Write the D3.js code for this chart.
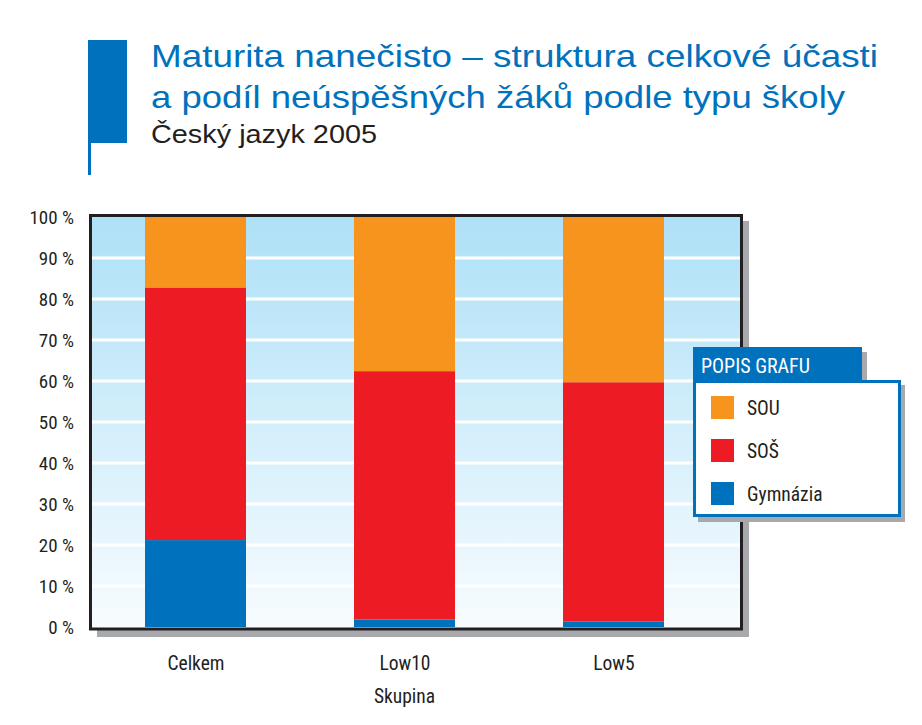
<!DOCTYPE html>
<html>
<head>
<meta charset="utf-8">
<script src="https://cdn.jsdelivr.net/npm/d3@7"></script>
<style>
  body { margin: 0; background: #fff; }
  svg { display: block; }
  .narrow { font-family: "Liberation Sans Narrow", "Arial Narrow", "Roboto Condensed", "Liberation Sans", sans-serif; font-weight: normal; }
</style>
</head>
<body>
<svg id="chart" width="922" height="725"></svg>
<script>
// ---- data ----
const categories = ["Celkem", "Low10", "Low5"];
const seriesNames = ["Gymnázia", "SOŠ", "SOU"];
const gymnazia = [21.2, 1.8, 1.3];
const sos = [61.6, 60.6, 58.4];
const sou = [17.2, 37.6, 40.3];
const yTicks = [0, 10, 20, 30, 40, 50, 60, 70, 80, 90, 100];
const titleLines = ["Maturita nanečisto – struktura celkové účasti", "a podíl neúspěšných žáků podle typu školy"];
const subtitle = "Český jazyk 2005";
const xAxisTitle = "Skupina";
const legendTitle = "POPIS GRAFU";
const legendOrder = ["SOU", "SOŠ", "Gymnázia"];
const colors = { "Gymnázia": "#0071bc", "SOŠ": "#ed1c24", "SOU": "#f7941d" };

const rows = categories.map((c, i) => ({ cat: c, "Gymnázia": gymnazia[i], "SOŠ": sos[i], "SOU": sou[i] }));

const svg = d3.select("#chart");

// ---- title block ----
svg.append("rect").attr("x", 88).attr("y", 40).attr("width", 39).attr("height", 103).attr("fill", "#0071bc");
svg.append("rect").attr("x", 88).attr("y", 140).attr("width", 3).attr("height", 35).attr("fill", "#0071bc");
const titleFont = "'Liberation Sans', Arial, sans-serif";
svg.append("text").attr("x", 151).attr("y", 67).attr("fill", "#0071bc")
  .attr("font-family", titleFont).attr("font-size", 32)
  .attr("textLength", 727).attr("lengthAdjust", "spacingAndGlyphs").text(titleLines[0]);
svg.append("text").attr("x", 151).attr("y", 108).attr("fill", "#0071bc")
  .attr("font-family", titleFont).attr("font-size", 32)
  .attr("textLength", 694).attr("lengthAdjust", "spacingAndGlyphs").text(titleLines[1]);
svg.append("text").attr("x", 151).attr("y", 143).attr("fill", "#231f20")
  .attr("font-family", titleFont).attr("font-size", 26)
  .attr("textLength", 226).attr("lengthAdjust", "spacingAndGlyphs").text(subtitle);

// ---- scales ----
const plot = { left: 92, right: 740, top: 217, bottom: 627 };
const y = d3.scaleLinear().domain([0, 100]).range([plot.bottom, plot.top]);
const x = d3.scalePoint().domain(categories).range([195.5, 613.5]);
const barW = 101;

// ---- frame shadow ----
svg.append("rect").attr("x", 97).attr("y", 221).attr("width", 652).attr("height", 416).attr("fill", "#a7a9ac");

// background gradient
const defs = svg.append("defs");
const grad = defs.append("linearGradient").attr("id", "bg").attr("x1", 0).attr("y1", 0).attr("x2", 0).attr("y2", 1);
grad.append("stop").attr("offset", "0%").attr("stop-color", "#ade0f7");
grad.append("stop").attr("offset", "100%").attr("stop-color", "#f8fcff");
svg.append("rect").attr("x", plot.left - 3).attr("y", plot.top - 3)
  .attr("width", plot.right - plot.left + 6).attr("height", plot.bottom - plot.top + 6)
  .attr("fill", "url(#bg)");

// gridlines
svg.append("g").selectAll("line").data(yTicks.filter(t => t > 0 && t < 100)).join("line")
  .attr("x1", plot.left).attr("x2", plot.right)
  .attr("y1", d => y(d)).attr("y2", d => y(d))
  .attr("stroke", "#fff").attr("stroke-width", 3);

// stacked bars
const stack = d3.stack().keys(seriesNames)(rows);
svg.append("g").selectAll("g").data(stack).join("g")
  .attr("fill", d => colors[d.key])
  .selectAll("rect").data(d => d).join("rect")
  .attr("x", d => x(d.data.cat) - barW / 2)
  .attr("width", barW)
  .attr("y", d => y(d[1]))
  .attr("height", d => y(d[0]) - y(d[1]));

// frame
svg.append("rect").attr("x", 90.5).attr("y", 215.5).attr("width", 651).attr("height", 413.5)
  .attr("fill", "none").attr("stroke", "#231f20").attr("stroke-width", 3);

// y axis labels
const yAxis = d3.axisLeft(y).tickValues(yTicks).tickFormat(d => d + " %").tickSize(0).tickPadding(0);
const yg = svg.append("g").attr("transform", "translate(74,0)").call(yAxis);
yg.select(".domain").remove();
yg.selectAll("text").attr("class", "narrow").attr("font-size", 19).attr("fill", "#231f20").attr("dy", "0.35em");
yg.attr("font-family", null);

// x axis labels
const xAxis = d3.axisBottom(x).tickSize(0).tickPadding(0);
const xg = svg.append("g").attr("transform", "translate(0,654)").call(xAxis);
xg.select(".domain").remove();
xg.selectAll("text").attr("class", "narrow").attr("font-size", 19.5).attr("fill", "#231f20").attr("dy", "0.8em");
xg.attr("font-family", null);

svg.append("text").attr("class", "narrow").attr("x", 404.5).attr("y", 703).attr("text-anchor", "middle")
  .attr("font-size", 19.5).attr("fill", "#231f20").text(xAxisTitle);

// ---- legend ----
const lg = svg.append("g");
lg.append("rect").attr("x", 698).attr("y", 352).attr("width", 169).attr("height", 35).attr("fill", "#a7a9ac");
lg.append("rect").attr("x", 698).attr("y", 385).attr("width", 207).attr("height", 137).attr("fill", "#a7a9ac");
lg.append("rect").attr("x", 693).attr("y", 347).attr("width", 169).attr("height", 36).attr("fill", "#0071bc");
lg.append("rect").attr("x", 694.5).attr("y", 381.5).attr("width", 205).attr("height", 134)
  .attr("fill", "#fff").attr("stroke", "#0071bc").attr("stroke-width", 3);
lg.append("text").attr("class", "narrow").attr("x", 701).attr("y", 373).attr("font-size", 20)
  .attr("fill", "#fff").text(legendTitle);
const items = lg.selectAll("g.item").data(legendOrder).join("g").attr("class", "item")
  .attr("transform", (d, i) => `translate(711,${396 + i * 43})`);
items.append("rect").attr("width", 23).attr("height", 23).attr("fill", d => colors[d]);
items.append("text").attr("class", "narrow").attr("x", 36).attr("y", 19).attr("font-size", 19.5)
  .attr("fill", "#231f20").text(d => d);
</script>
</body>
</html>
